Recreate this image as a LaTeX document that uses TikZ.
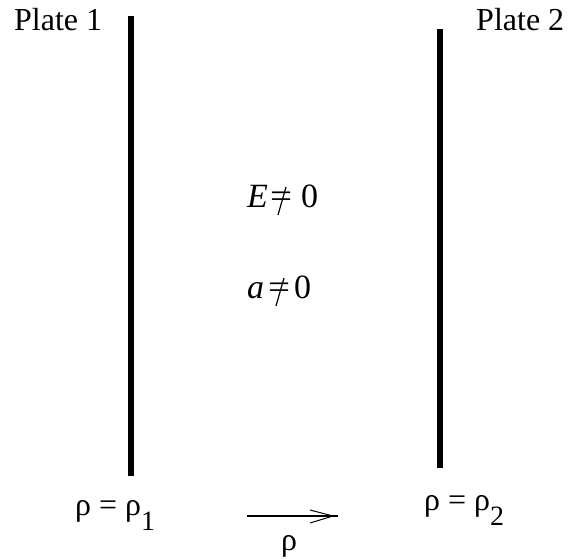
\documentclass[tikz,border=0pt]{standalone}
\usepackage{fontspec}
\setmainfont{Liberation Serif}
\newcommand{\subd}[1]{\raisebox{-15pt}{\fontsize{28}{28}\selectfont #1}}
\begin{document}
\begin{tikzpicture}[x=1pt,y=-1pt,
  lbl/.style={inner sep=0pt,anchor=base west,font=\fontsize{32}{32}\selectfont},
  big/.style={inner sep=0pt,anchor=base west,font=\fontsize{34}{34}\selectfont},
  plate/.style={line width=5.5pt},
  slash/.style={line width=1.2pt}]
\useasboundingbox (0,0) rectangle (577,558);
% plates
\coordinate (p1t) at (131,16);
\coordinate (p1b) at (131,476);
\coordinate (p2t) at (440,29);
\coordinate (p2b) at (440,468);
\draw[plate] (p1t) -- (p1b);
\draw[plate] (p2t) -- (p2b);
% labels
\node[lbl] (l1) at (14,30) {Plate 1};
\node[lbl] (l2) at (476,30) {Plate 2};
% E != 0
\node[big] (e) at (247,207) {\textit{E}};
\node[big] (eeq) at (270,207) {\scalebox{1.15}[1]{=}};
\node[big] (e0) at (301,207) {0};
\coordinate (es1) at (286,187);
\coordinate (es2) at (278,215);
\draw[slash] (es1) -- (es2);
% a != 0
\node[big] (a) at (247,298) {\textit{a}};
\node[big] (aeq) at (268,298) {\scalebox{1.15}[1]{=}};
\node[big] (a0) at (294,298) {0};
\coordinate (as1) at (284,278);
\coordinate (as2) at (276,306);
\draw[slash] (as1) -- (as2);
% rho labels
\node[lbl] (r1) at (75,515) {ρ = ρ\subd{1}};
\node[lbl] (r2) at (424,510) {ρ = ρ\subd{2}};
\node[lbl,anchor=base] (r) at (289,550) {ρ};
% arrow
\coordinate (as) at (247,516);
\coordinate (ae) at (338,516);
\coordinate (tip) at (333,516);
\draw[line width=1.1pt] (as) -- (ae);
\draw[line width=1pt] (310,510) -- (tip) -- (310,523);
\end{tikzpicture}
\end{document}
